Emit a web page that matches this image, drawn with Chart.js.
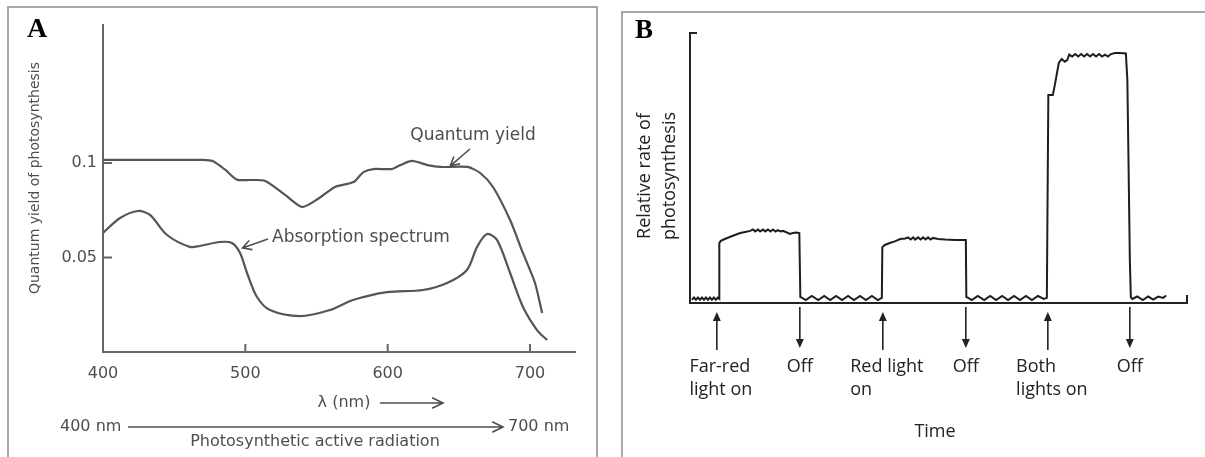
<!DOCTYPE html>
<html>
<head>
<meta charset="utf-8">
<script src="https://cdn.jsdelivr.net/npm/chart.js@4.4.1/dist/chart.umd.min.js"></script>
<style>
  html, body { margin: 0; padding: 0; background: #fff; }
  body { width: 1205px; height: 457px; position: relative; overflow: hidden; }
  #spectrum { position: absolute; left: 0; top: 0; }
  #response { position: absolute; left: 610px; top: 0; }
</style>
</head>
<body>
<canvas id="spectrum" width="600" height="457"></canvas>
<canvas id="response" width="595" height="457"></canvas>
<script>
// ---- Panel A: quantum yield and absorption spectrum against wavelength (nm) ----
const qyWavelength = [400, 440, 470, 477, 486, 494, 504, 514, 528, 540, 552, 563, 576, 583, 590, 603, 609, 617, 628, 637, 656, 665, 674, 686, 695, 703.5, 708.5];
const qyValue      = [0.1016, 0.1016, 0.1016, 0.1010, 0.0963, 0.0912, 0.0910, 0.0905, 0.0831, 0.0767, 0.0815, 0.0873, 0.0899, 0.0952, 0.0968, 0.0968, 0.0989, 0.1011, 0.0989, 0.0979, 0.0979, 0.0947, 0.0873, 0.0698, 0.0524, 0.0365, 0.0206];

const absWavelength = [400, 412, 424.6, 433, 445, 461, 468, 482, 490.6, 496.3, 501.2, 508.2, 517.3, 538.4, 559.5, 575.6, 599.5, 624.8, 641.7, 655.7, 662.8, 669.8, 676.8, 686, 695.1, 704.9, 712];
const absValue      = [0.0630, 0.0709, 0.0746, 0.0725, 0.0619, 0.0556, 0.0561, 0.0582, 0.0577, 0.0524, 0.0418, 0.0291, 0.0222, 0.0190, 0.0222, 0.0275, 0.0317, 0.0328, 0.0365, 0.0434, 0.0556, 0.0624, 0.0593, 0.0418, 0.0238, 0.0116, 0.0063];

const wavelengthTicks = [400, 500, 600, 700];
const yieldTicks = [0.05, 0.1];
const yieldTickLabels = ['0.05', '0.1'];

// ---- Panel B: relative photosynthesis rate over time under light treatments ----
const timePoints = [
  0.4, 0.8, 1.2, 1.6, 2.0, 2.4, 2.8, 3.2, 3.6, 4.0, 4.4, 4.8, 5.2, 5.6, 5.9,
  5.9, 6.2, 7.0, 8.5, 10.1, 11.1, 12.1, 12.7, 13.1, 13.7, 14.1, 14.7, 15.1, 15.7, 16.2, 16.7, 17.2, 17.7, 18.2, 18.7, 19.5, 20.1, 20.7, 21.3, 22.0,
  22.2, 22.5, 23.3, 24.5, 25.8, 27.0, 28.2, 29.4, 30.6, 31.8, 33.0, 34.2, 35.4, 36.6, 37.8, 38.6,
  38.7, 39.2, 40.2, 41.2, 42.3, 43.3, 43.9, 44.4, 44.9, 45.3, 45.9, 46.4, 46.9, 47.4, 47.9, 48.4, 48.9, 49.9, 51.3, 53.3, 55.5,
  55.6, 55.9, 56.7, 57.9, 59.2, 60.4, 61.6, 62.8, 64.0, 65.2, 66.4, 67.6, 68.8, 70.0, 71.2, 71.8,
  72.1, 73.0, 73.4, 74.2, 74.8, 75.4, 75.9, 76.3, 76.9, 77.5, 78.1, 78.7, 79.3, 79.9, 80.5, 81.1, 81.7, 82.3, 82.9, 83.5, 84.1, 84.7, 85.5, 86.5, 87.7,
  88.0, 88.2, 88.5, 88.7, 89.0, 90.0, 91.1, 92.2, 93.2, 94.2, 95.2, 95.8
];
const rateValues = [
  1.2, 2.0, 1.2, 2.0, 1.2, 2.0, 1.2, 2.0, 1.2, 2.0, 1.2, 2.0, 1.2, 2.0, 1.6,
  22.2, 23.0, 23.7, 24.8, 25.9, 26.3, 26.7, 27.2, 26.5, 27.2, 26.5, 27.2, 26.5, 27.2, 26.5, 27.2, 26.5, 27.0, 26.5, 26.7, 26.1, 25.6, 25.9, 26.1, 25.9,
  2.2, 2.0, 1.1, 2.6, 1.1, 2.6, 1.1, 2.6, 1.1, 2.6, 1.1, 2.6, 1.1, 2.6, 1.1, 1.9,
  20.7, 21.5, 22.2, 22.8, 23.7, 23.9, 24.3, 23.5, 24.3, 23.5, 24.3, 23.5, 24.3, 23.5, 24.3, 23.5, 24.1, 23.7, 23.5, 23.3, 23.3,
  2.2, 2.0, 1.1, 2.6, 1.1, 2.6, 1.1, 2.6, 1.1, 2.6, 1.1, 2.6, 1.1, 2.6, 1.5, 1.9,
  77.0, 77.0, 80.7, 88.9, 90.4, 89.4, 90.0, 92.0, 91.3, 92.2, 91.3, 92.2, 91.3, 92.2, 91.3, 92.2, 91.3, 92.2, 91.3, 92.0, 91.3, 92.2, 92.6, 92.6, 92.4,
  82.6, 56.7, 15.9, 2.2, 1.5, 2.4, 1.1, 2.4, 1.3, 2.4, 1.9, 2.8
];

const eventTimes  = [5.4, 22.1, 38.8, 55.5, 72.0, 88.5];
const eventKinds  = ['on', 'off', 'on', 'off', 'on', 'off'];
const eventLabels = [['Far-red', 'light on'], ['Off'], ['Red light', 'on'], ['Off'], ['Both', 'lights on'], ['Off']];

// ---- helpers ----
function toPoints(xs, ys) { return xs.map((v, i) => ({ x: v, y: ys[i] })); }

function openArrow(ctx, x1, y1, x2, y2, len, spread) {
  const a = Math.atan2(y2 - y1, x2 - x1);
  ctx.beginPath();
  ctx.moveTo(x1, y1);
  ctx.lineTo(x2, y2);
  ctx.moveTo(x2 - len * Math.cos(a - spread), y2 - len * Math.sin(a - spread));
  ctx.lineTo(x2, y2);
  ctx.lineTo(x2 - len * Math.cos(a + spread), y2 - len * Math.sin(a + spread));
  ctx.stroke();
}

function solidArrow(ctx, x, yFrom, yTo) {
  const dir = yTo > yFrom ? 1 : -1;
  const head = 9, half = 4;
  ctx.beginPath();
  ctx.moveTo(x, yFrom);
  ctx.lineTo(x, yTo - dir * head);
  ctx.stroke();
  ctx.beginPath();
  ctx.moveTo(x, yTo);
  ctx.lineTo(x - half, yTo - dir * head);
  ctx.lineTo(x + half, yTo - dir * head);
  ctx.closePath();
  ctx.fill();
}

const GRAY = '#4e4e4e';
const FONT_A = '"DejaVu Sans", Verdana, sans-serif';
const FONT_B = '"Open Sans", "Noto Sans", sans-serif';

// ---- Panel A decorations: frame, letter, inward ticks, labels, arrows ----
const spectrumExtras = {
  id: 'spectrumExtras',
  afterDraw(chart) {
    const { ctx, chartArea: ca, scales: { x, y } } = chart;
    ctx.save();
    ctx.strokeStyle = '#a8a8a8';
    ctx.lineWidth = 2;
    ctx.strokeRect(8, 7, 589, 480);

    ctx.fillStyle = '#000';
    ctx.font = 'bold 28px "Liberation Serif", "Times New Roman", serif';
    ctx.textBaseline = 'alphabetic';
    ctx.fillText('A', 27, 37);

    // inward tick marks
    ctx.strokeStyle = '#666';
    ctx.lineWidth = 2;
    ctx.beginPath();
    yieldTicks.forEach(v => {
      const py = y.getPixelForValue(v);
      ctx.moveTo(ca.left, py); ctx.lineTo(ca.left + 9, py);
    });
    wavelengthTicks.slice(1).forEach(v => {
      const px = x.getPixelForValue(v);
      ctx.moveTo(px, ca.bottom); ctx.lineTo(px, ca.bottom - 8);
    });
    ctx.stroke();

    // y-axis title
    ctx.fillStyle = GRAY;
    ctx.save();
    ctx.translate(35, 178);
    ctx.rotate(-Math.PI / 2);
    ctx.textAlign = 'center';
    ctx.textBaseline = 'middle';
    ctx.font = '14px ' + FONT_A;
    ctx.fillText('Quantum yield of photosynthesis', 0, 0);
    ctx.restore();

    ctx.textBaseline = 'middle';
    ctx.font = '17px ' + FONT_A;
    ctx.lineWidth = 1.6;
    ctx.strokeStyle = GRAY;

    // curve callouts
    ctx.textAlign = 'center';
    ctx.fillText('Quantum yield', 473, 136);
    const qTip = { x: x.getPixelForValue(644), y: y.getPixelForValue(0.0985) };
    openArrow(ctx, 470, 149, qTip.x, qTip.y, 10, 0.5);

    ctx.textAlign = 'left';
    ctx.fillText('Absorption spectrum', 272, 238);
    const aTip = { x: x.getPixelForValue(498), y: y.getPixelForValue(0.055) };
    openArrow(ctx, 268, 239, aTip.x, aTip.y, 10, 0.5);

    // wavelength captions
    ctx.font = '16px ' + FONT_A;
    ctx.textAlign = 'center';
    ctx.fillText('\u03bb (nm)', 344, 403);
    openArrow(ctx, 380, 403, 443, 403, 12, 0.45);

    ctx.textAlign = 'left';
    ctx.fillText('400 nm', 60, 427);
    openArrow(ctx, 128, 427, 503, 427, 12, 0.45);
    ctx.fillText('700 nm', 508, 427);
    ctx.textAlign = 'center';
    ctx.fillText('Photosynthetic active radiation', 315, 442);
    ctx.restore();
  }
};

new Chart(document.getElementById('spectrum'), {
  type: 'line',
  data: {
    datasets: [
      { label: 'Quantum yield', data: toPoints(qyWavelength, qyValue),
        borderColor: '#555', borderWidth: 2.2, pointRadius: 0, fill: false, tension: 0.25 },
      { label: 'Absorption spectrum', data: toPoints(absWavelength, absValue),
        borderColor: '#555', borderWidth: 2.2, pointRadius: 0, fill: false, tension: 0.3 }
    ]
  },
  options: {
    responsive: false,
    animation: false,
    devicePixelRatio: 1,
    layout: { padding: { left: 0, right: 25, top: 25, bottom: 0 } },
    plugins: { legend: { display: false }, tooltip: { enabled: false } },
    scales: {
      x: {
        type: 'linear', min: 400, max: 731.6,
        afterBuildTicks: s => { s.ticks = wavelengthTicks.map(v => ({ value: v })); },
        afterFit: s => { s.height = 105; },
        grid: { display: false, drawTicks: false },
        border: { display: true, color: '#666', width: 2 },
        ticks: { color: GRAY, font: { family: FONT_A, size: 16 }, padding: 12, maxRotation: 0, autoSkip: false }
      },
      y: {
        type: 'linear', min: 0, max: 0.173,
        afterBuildTicks: s => { s.ticks = yieldTicks.map(v => ({ value: v })); },
        afterFit: s => { s.width = 103; },
        grid: { display: false, drawTicks: false },
        border: { display: true, color: '#666', width: 2 },
        ticks: {
          color: GRAY, font: { family: FONT_A, size: 16 }, padding: 6, autoSkip: false,
          callback: (v, i) => yieldTickLabels[i]
        }
      }
    }
  },
  plugins: [spectrumExtras]
});

// ---- Panel B decorations: frame, letter, axis caps, titles, event arrows ----
const responseExtras = {
  id: 'responseExtras',
  afterDraw(chart) {
    const { ctx, chartArea: ca, scales: { x } } = chart;
    ctx.save();
    ctx.strokeStyle = '#a8a8a8';
    ctx.lineWidth = 2;
    ctx.strokeRect(12, 12, 640, 480);

    ctx.fillStyle = '#000';
    ctx.font = 'bold 27px "Liberation Serif", "Times New Roman", serif';
    ctx.textBaseline = 'alphabetic';
    ctx.fillText('B', 25, 38);

    ctx.strokeStyle = '#222';
    ctx.fillStyle = '#222';
    ctx.lineWidth = 2;
    ctx.beginPath();
    ctx.moveTo(ca.left - 1, ca.top); ctx.lineTo(ca.left + 7, ca.top);
    ctx.moveTo(ca.right, ca.bottom); ctx.lineTo(ca.right, ca.bottom - 8);
    ctx.stroke();

    ctx.font = '18px ' + FONT_B;
    ctx.save();
    ctx.translate(35, 176);
    ctx.rotate(-Math.PI / 2);
    ctx.textAlign = 'center';
    ctx.textBaseline = 'middle';
    ctx.fillText('Relative rate of', 0, 0);
    ctx.fillText('photosynthesis', 0, 25);
    ctx.restore();

    ctx.lineWidth = 1.6;
    ctx.textBaseline = 'middle';
    eventTimes.forEach((t, i) => {
      const px = x.getPixelForValue(t);
      if (eventKinds[i] === 'on') solidArrow(ctx, px, ca.bottom + 47, ca.bottom + 9);
      else solidArrow(ctx, px, ca.bottom + 4, ca.bottom + 45);
      const lines = eventLabels[i];
      if (lines.length === 1) {
        ctx.textAlign = 'center';
        ctx.fillText(lines[0], px, 367);
      } else {
        const w = Math.max(...lines.map(s => ctx.measureText(s).width));
        ctx.textAlign = 'left';
        const left = px - w / 2 + 4;
        lines.forEach((s, k) => ctx.fillText(s, left, 367 + k * 23));
      }
    });

    ctx.textAlign = 'center';
    ctx.fillText('Time', 325, 432);
    ctx.restore();
  }
};

new Chart(document.getElementById('response'), {
  type: 'line',
  data: {
    datasets: [
      { label: 'Rate', data: toPoints(timePoints, rateValues),
        borderColor: '#1e1e1e', borderWidth: 2, pointRadius: 0, fill: false, tension: 0 }
    ]
  },
  options: {
    responsive: false,
    animation: false,
    devicePixelRatio: 1,
    layout: { padding: { left: 0, right: 18, top: 33, bottom: 0 } },
    plugins: { legend: { display: false }, tooltip: { enabled: false } },
    scales: {
      x: {
        type: 'linear', min: 0, max: 100,
        afterFit: s => { s.height = 154; },
        grid: { display: false, drawTicks: false },
        border: { display: true, color: '#222', width: 2 },
        ticks: { display: false }
      },
      y: {
        type: 'linear', min: 0, max: 100,
        afterFit: s => { s.width = 80; },
        grid: { display: false, drawTicks: false },
        border: { display: true, color: '#222', width: 2 },
        ticks: { display: false }
      }
    }
  },
  plugins: [responseExtras]
});
</script>
</body>
</html>
